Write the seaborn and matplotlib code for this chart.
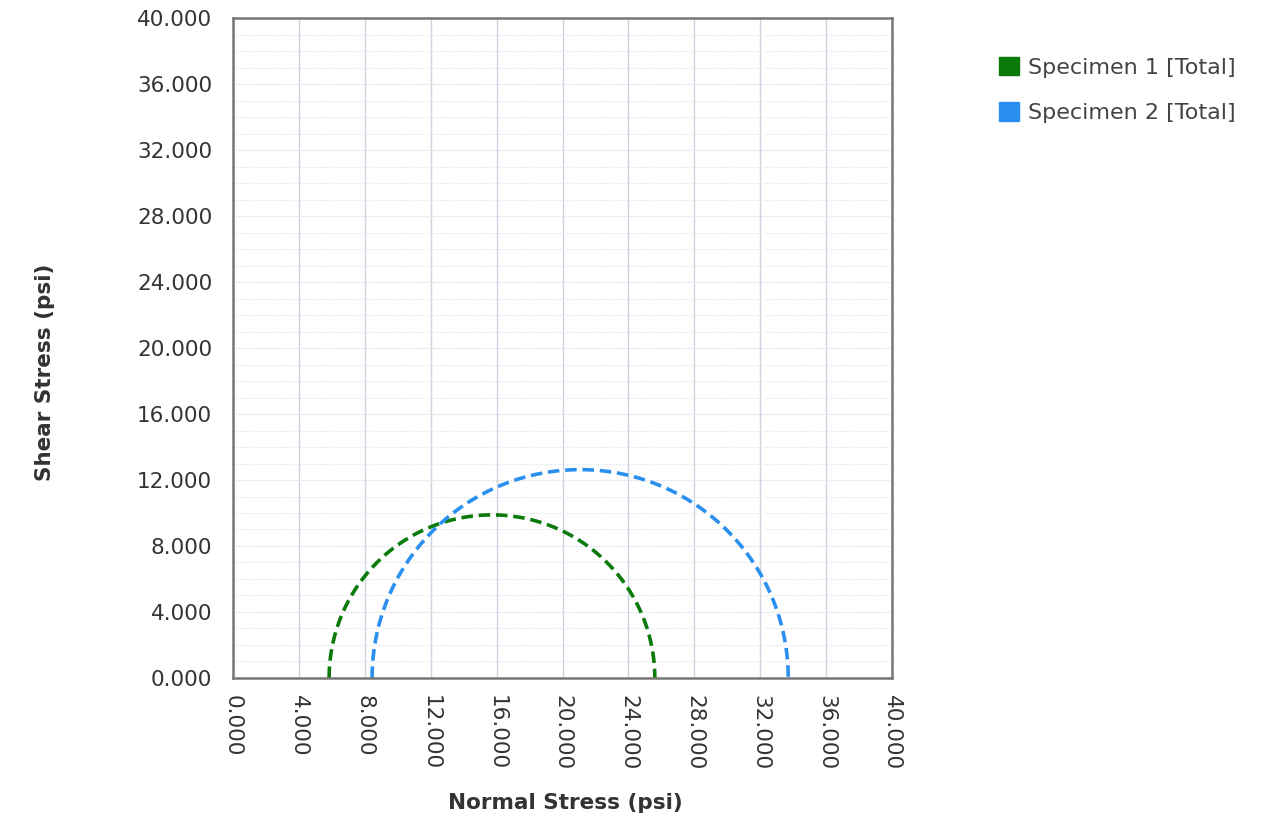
import numpy as np
import pandas as pd
import matplotlib
matplotlib.use("Agg")
import matplotlib.pyplot as plt
import seaborn as sns
from matplotlib.patches import Patch
from matplotlib.ticker import MultipleLocator, FormatStrFormatter

# principal stresses (psi, thousands)
specimens = ['Specimen 1 [Total]', 'Specimen 2 [Total]']
sigma3 = [5.83, 8.44]
sigma1 = [25.6, 33.7]
colors = ['#0a7a0a', '#2b8fef']

# Mohr circle upper half for each specimen
frames = []
theta = np.linspace(0, np.pi, 200)
for name, s3, s1 in zip(specimens, sigma3, sigma1):
    c = (s1 + s3) / 2
    r = (s1 - s3) / 2
    frames.append(pd.DataFrame({'normal': c - r * np.cos(theta),
                                'shear': r * np.sin(theta),
                                'specimen': name}))
df = pd.concat(frames, ignore_index=True)

sns.set_style('white')
plt.rcParams['font.family'] = ['DejaVu Sans']

fig = plt.figure(figsize=(12.68, 8.21), dpi=100)
ax = fig.add_axes([0.1838, 0.1742, 0.5197, 0.8038])

sns.lineplot(data=df, x='normal', y='shear', hue='specimen', units='specimen',
             estimator=None, sort=False, palette=colors, linewidth=2.6,
             legend=False, ax=ax)
for line in ax.lines:
    line.set_dashes([3.2, 1.6])

ax.set_xlim(0, 40)
ax.set_ylim(0, 40)
ax.xaxis.set_major_locator(MultipleLocator(4))
ax.yaxis.set_major_locator(MultipleLocator(4))
ax.yaxis.set_minor_locator(MultipleLocator(1))
fmt = FormatStrFormatter('%.3f')
ax.xaxis.set_major_formatter(fmt)
ax.yaxis.set_major_formatter(fmt)

ax.grid(True, which='major', axis='x', color='#c8d4e0', linewidth=1)
ax.grid(True, which='major', axis='y', color='#d8dde3', linewidth=0.9, linestyle=(0, (1, 1)))
ax.grid(True, which='minor', axis='y', color='#e2e5e8', linewidth=0.8, linestyle=(0, (1, 1)))
ax.set_axisbelow(True)

for s in ax.spines.values():
    s.set_color('#777777')
    s.set_linewidth(1.8)

ax.tick_params(axis='both', which='major', length=6, color='#777777', width=1,
               labelsize=15.5, labelcolor='#333333', direction='out')
ax.tick_params(axis='y', which='major', pad=9)
ax.tick_params(axis='x', which='major', pad=6)
ax.tick_params(axis='both', which='minor', length=0)
plt.setp(ax.get_xticklabels(), rotation=270)

ax.set_xlabel('Normal Stress (psi)', fontsize=15.5, fontweight='bold', color='#333333')
ax.set_ylabel('Shear Stress (psi)', fontsize=15.5, fontweight='bold', color='#333333')
ax.xaxis.set_label_coords(0.504, -0.189)
ax.yaxis.set_label_coords(-0.285, 0.4636)
ax.xaxis.label.set_va('center')
ax.yaxis.label.set_va('center')

handles = [Patch(facecolor=c, edgecolor=c) for c in colors]
fig.legend(handles, specimens, loc='upper left', bbox_to_anchor=(0.772, 0.955),
           frameon=False, fontsize=16, handlelength=0.9, handleheight=0.9,
           handletextpad=0.4, labelspacing=1.1, labelcolor='#444444')

fig.savefig('out.png', dpi=100)
